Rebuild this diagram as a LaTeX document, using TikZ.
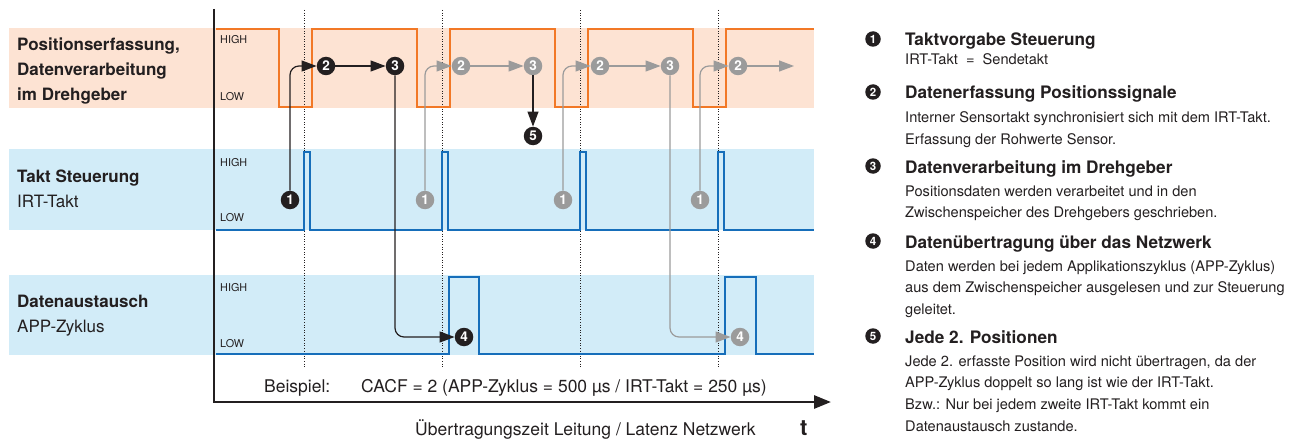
\documentclass[tikz,border=0pt]{standalone}
\usepackage{fontspec}
\setmainfont{TeX Gyre Heros}
\usetikzlibrary{positioning, arrows.meta}

\definecolor{darktext}{RGB}{35,31,32}
\definecolor{greytone}{RGB}{155,155,155}
\definecolor{bandorange}{RGB}{253,227,211}
\definecolor{signalorange}{RGB}{242,120,38}
\definecolor{bandblue}{RGB}{210,236,248}
\definecolor{signalblue}{RGB}{22,110,186}

\begin{document}
\begin{tikzpicture}[ % one unit is one pixel of the picture
x=1pt, y=-1pt,
band_orange/.style={fill=bandorange},
band_blue/.style={fill=bandblue},
signal_orange/.style={draw=signalorange, line width=2.8pt},
signal_blue/.style={draw=signalblue, line width=2.8pt},
dotted_line/.style={draw=darktext, line width=0.9pt, dash pattern=on 1pt off 1.6pt},
axis_arrow/.style={-{Triangle[length=17pt, width=13pt]}, draw=darktext, line width=2.8pt},
black_num/.style={circle, fill=darktext, text=white, inner sep=0pt, minimum size=18.5pt, font=\fontsize{13.5}{13.5}\selectfont\bfseries},
grey_num/.style={black_num, fill=greytone},
legend_num/.style={black_num, minimum size=15.5pt, font=\fontsize{11.5}{11.5}\selectfont\bfseries},
black_arrow/.style={-{Triangle[length=15pt, width=11pt]}, draw=darktext, line width=1.2pt, rounded corners=9pt},
grey_arrow/.style={black_arrow, draw=greytone},
row_label/.style={anchor=north west, inner sep=0pt, align=left, text=darktext, font=\fontsize{17}{25}\selectfont},
level_text/.style={anchor=base west, inner sep=0pt, text=darktext, font=\fontsize{10.8}{10.8}\selectfont},
axis_text/.style={anchor=base west, inner sep=0pt, text=darktext, font=\fontsize{17.5}{17.5}\selectfont},
legend_title/.style={anchor=base west, inner sep=0pt, text=darktext, font=\fontsize{17.2}{17.2}\selectfont\bfseries},
legend_text/.style={anchor=north west, inner sep=0pt, align=left, text=darktext, font=\fontsize{14.6}{21.7}\selectfont}
]

\useasboundingbox (0,0) rectangle (1295,441);

% bands behind the signals
\fill[band_orange] (9,28) rectangle (814,108);
\fill[band_blue] (9,149) rectangle (814,230);
\fill[band_blue] (9,275) rectangle (814,355);

% dotted lines at each IRT pulse
\draw[dotted_line] (304,10) -- (304,367);
\draw[dotted_line] (442,10) -- (442,367);
\draw[dotted_line] (580,10) -- (580,367);
\draw[dotted_line] (718,10) -- (718,367);

% signals
\draw[signal_orange] (216,29) -- (279,29) -- (279,107) -- (312,107) -- (312,29) -- (417,29) -- (417,107) -- (450,107) -- (450,29) -- (555,29) -- (555,107) -- (588,107) -- (588,29) -- (693,29) -- (693,107) -- (726,107) -- (726,29) -- (814,29);
\draw[signal_blue] (216,230) -- (304,230) -- (304,152) -- (310,152) -- (310,230) -- (442,230) -- (442,152) -- (448,152) -- (448,230) -- (580,230) -- (580,152) -- (586,152) -- (586,230) -- (718,230) -- (718,152) -- (724,152) -- (724,230) -- (814,230);
\draw[signal_blue] (216,354) -- (449,354) -- (449,277) -- (479,277) -- (479,354) -- (725,354) -- (725,277) -- (756,277) -- (756,354) -- (814,354);

% axes
\coordinate (axis_top) at (214,9);
\coordinate (axis_origin) at (214,402);
\coordinate (axis_end) at (831,402);
\draw[axis_arrow] (axis_top) -- (axis_origin) -- (axis_end);

% row labels
\node[row_label](row_encoder) at (17,37.6) {\bfseries Positionserfassung,\\\bfseries Datenverarbeitung\\\bfseries im Drehgeber};
\node[row_label](row_clock) at (17,169.6) {\bfseries Takt Steuerung\\IRT-Takt};
\node[row_label](row_exchange) at (17,294.6) {\bfseries Datenaustausch\\APP-Zyklus};

\node[level_text](high_encoder) at (220,44) {HIGH};
\node[level_text](low_encoder) at (220,101) {LOW};
\node[level_text](high_clock) at (220,166) {HIGH};
\node[level_text](low_clock) at (220,221) {LOW};
\node[level_text](high_exchange) at (220,291) {HIGH};
\node[level_text](low_exchange) at (220,347) {LOW};

% \node[type](name_of_node) at (x,y) {number}
\node[black_num](one_a) at (290,200) {1};
\node[black_num](two_a) at (326,66) {2};
\node[black_num](three_a) at (395,66) {3};
\node[black_num](four_a) at (464,337) {4};
\node[black_num](five_a) at (533,136) {5};

\node[grey_num](one_b) at (425,200) {1};
\node[grey_num](two_b) at (461,66) {2};
\node[grey_num](three_b) at (533,66) {3};

\node[grey_num](one_c) at (563,200) {1};
\node[grey_num](two_c) at (600,66) {2};
\node[grey_num](three_c) at (670,66) {3};
\node[grey_num](four_c) at (740,337) {4};

\node[grey_num](one_d) at (700,200) {1};
\node[grey_num](two_d) at (738,66) {2};
\coordinate (open_end) at (794,66);

% \draw[style](name_of_node) |- (name_of_node)
\draw[black_arrow](one_a) |- (two_a);
\draw[black_arrow](two_a) -- (three_a);
\draw[black_arrow](three_a) |- (four_a);

\draw[grey_arrow](one_b) |- (two_b);
\draw[grey_arrow](two_b) -- (three_b);
\draw[black_arrow](three_b) -- (five_a);

\draw[grey_arrow](one_c) |- (two_c);
\draw[grey_arrow](two_c) -- (three_c);
\draw[grey_arrow](three_c) |- (four_c);

\draw[grey_arrow](one_d) |- (two_d);
\draw[grey_arrow](two_d) -- (open_end);

% texts under the signals
\node[axis_text](example_label) at (264,392) {Beispiel:};
\node[axis_text](example_text) at (361,392) {CACF = 2 (APP-Zyklus = 500 µs / IRT-Takt = 250 µs)};
\node[axis_text](axis_label) at (415,435) {Übertragungszeit Leitung / Latenz Netzwerk};
\node[axis_text, font=\fontsize{22}{22}\selectfont\bfseries](time_label) at (800,435) {t};

% legend
\node[legend_num](key_one) at (873,39) {1};
\node[legend_title](title_one) at (905,46) {Taktvorgabe Steuerung};
\node[legend_text](text_one) at (905,53.3) {IRT-Takt~~=~~Sendetakt};

\node[legend_num](key_two) at (873,92) {2};
\node[legend_title](title_two) at (905,99) {Datenerfassung Positionssignale};
\node[legend_text](text_two) at (905,111.3) {Interner Sensortakt synchronisiert sich mit dem IRT-Takt.\\Erfassung der Rohwerte Sensor.};

\node[legend_num](key_three) at (873,166) {3};
\node[legend_title](title_three) at (905,173) {Datenverarbeitung im Drehgeber};
\node[legend_text](text_three) at (905,185.3) {Positionsdaten werden verarbeitet und in den\\Zwischenspeicher des Drehgebers geschrieben.};

\node[legend_num](key_four) at (873,241) {4};
\node[legend_title](title_four) at (905,248) {Datenübertragung über das Netzwerk};
\node[legend_text](text_four) at (905,260.3) {Daten werden bei jedem Applikationszyklus (APP-Zyklus)\\aus dem Zwischenspeicher ausgelesen und zur Steuerung\\geleitet.};

\node[legend_num](key_five) at (873,336) {5};
\node[legend_title](title_five) at (905,343) {Jede 2. Positionen};
\node[legend_text](text_five) at (905,355.3) {Jede 2. erfasste Position wird nicht übertragen, da der\\APP-Zyklus doppelt so lang ist wie der IRT-Takt.\\Bzw.: Nur bei jedem zweite IRT-Takt kommt ein\\Datenaustausch zustande.};

\end{tikzpicture}
\end{document}
